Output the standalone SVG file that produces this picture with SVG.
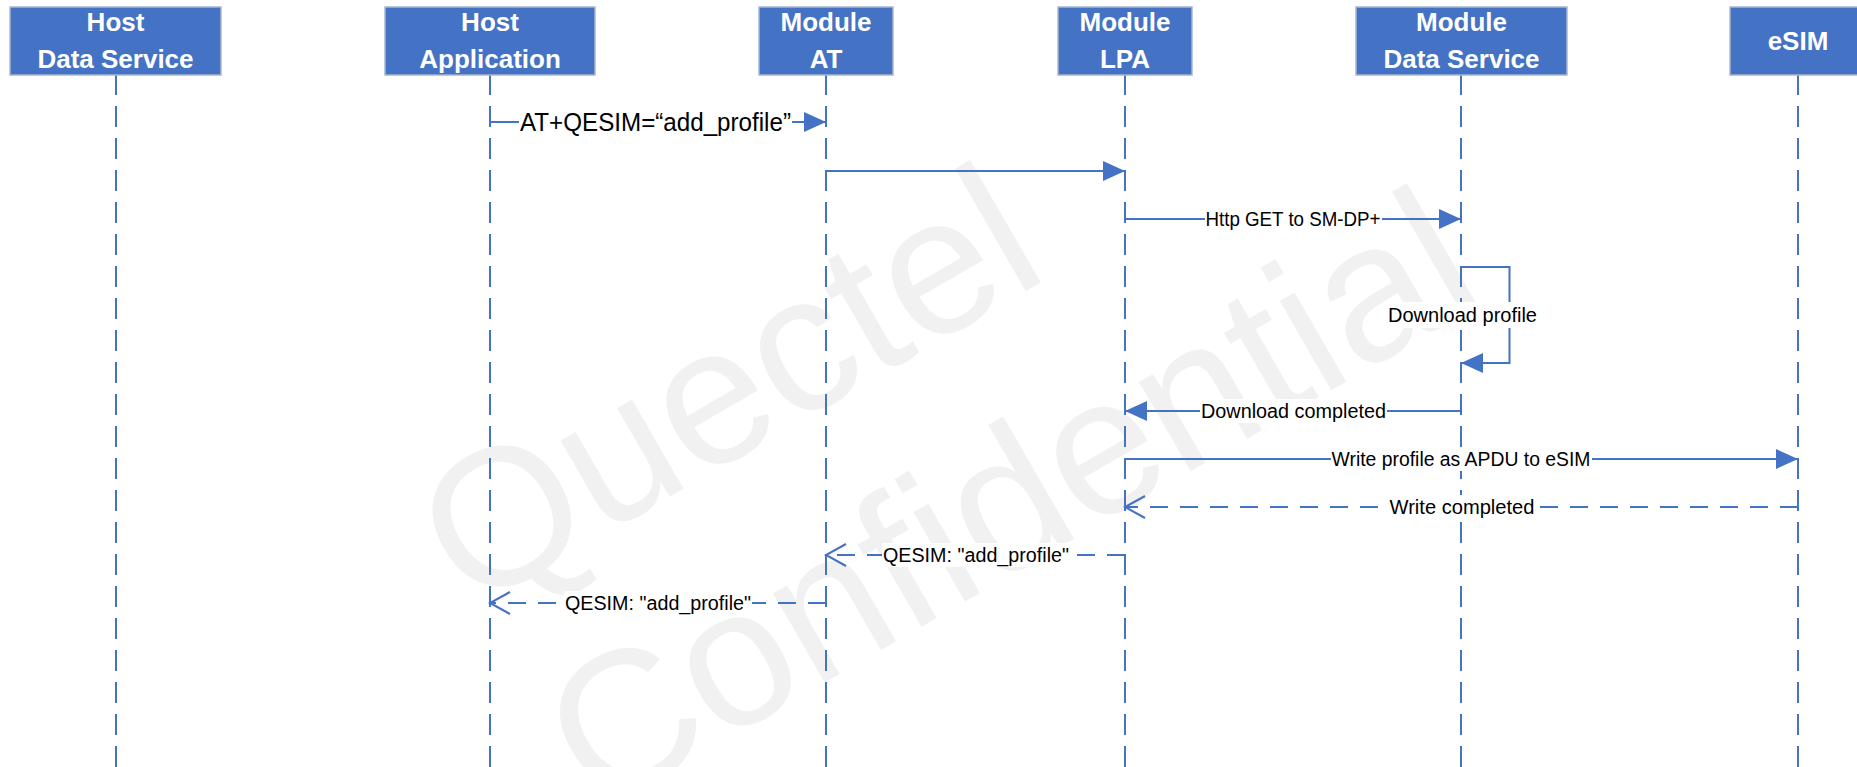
<svg xmlns="http://www.w3.org/2000/svg" width="1857" height="767" viewBox="0 0 1857 767">
<style>
.wm{font-family:"Liberation Sans",Arial,sans-serif;font-size:195px;fill:#F1F1F1}
.box{fill:#4472C4;stroke:#A9B6CF;stroke-width:1.5}
.ht{font-family:"Liberation Sans",Arial,sans-serif;font-weight:bold;font-size:26px;fill:#FFFFFF;text-anchor:middle}
.life{stroke:#4472C4;stroke-width:2;stroke-dasharray:21 11;fill:none}
.msg{stroke:#4472C4;stroke-width:2;fill:none}
.sync{marker-end:url(#fa)}
.ret{stroke-dasharray:18 12;marker-end:url(#oa)}
.lbl{font-family:"Liberation Sans",Arial,sans-serif;font-size:20px;fill:#000;text-anchor:middle}
.bg{fill:#FFFFFF}
</style>
<defs>
<marker id="fa" markerUnits="userSpaceOnUse" markerWidth="22" markerHeight="20" refX="22" refY="10" orient="auto" viewBox="0 0 22 20">
<path d="M0,0 L22,10 L0,20 Z" fill="#4472C4"/>
</marker>
<marker id="oa" markerUnits="userSpaceOnUse" markerWidth="24" markerHeight="26" refX="21" refY="13" orient="auto" viewBox="0 0 24 26">
<path d="M1,2 L21,13 L1,24" fill="none" stroke="#4472C4" stroke-width="2"/>
</marker>
</defs>
<rect width="1857" height="767" fill="#FFFFFF"/>
<g id="watermark">
<text class="wm" transform="translate(470,612) rotate(-30)">Quectel</text>
<text class="wm" transform="translate(597,814) rotate(-30)">Confidential</text>
</g>
<g id="host-data-service">
<path class="life" d="M116,74 V767"/>
<rect class="box" x="10" y="7" width="211" height="68"/>
<text class="ht" x="115.5" y="31">Host</text>
<text class="ht" x="115.5" y="68">Data Service</text>
</g>
<g id="host-application">
<path class="life" d="M490,74 V767"/>
<rect class="box" x="385" y="7" width="210" height="68"/>
<text class="ht" x="490" y="31">Host</text>
<text class="ht" x="490" y="68">Application</text>
</g>
<g id="module-at">
<path class="life" d="M826,74 V767"/>
<rect class="box" x="759" y="7" width="134" height="68"/>
<text class="ht" x="826" y="31">Module</text>
<text class="ht" x="826" y="68">AT</text>
</g>
<g id="module-lpa">
<path class="life" d="M1125,74 V767"/>
<rect class="box" x="1058" y="7" width="134" height="68"/>
<text class="ht" x="1125" y="31">Module</text>
<text class="ht" x="1125" y="68">LPA</text>
</g>
<g id="module-data-service">
<path class="life" d="M1461,74 V767"/>
<rect class="box" x="1356" y="7" width="211" height="68"/>
<text class="ht" x="1461.5" y="31">Module</text>
<text class="ht" x="1461.5" y="68">Data Service</text>
</g>
<g id="esim">
<path class="life" d="M1798,74 V767"/>
<rect class="box" x="1730" y="7" width="136" height="68"/>
<text class="ht" x="1798" y="50">eSIM</text>
</g>
<g id="connectors">
<path class="msg sync" d="M490,122 H826"/>
<rect class="bg" x="519" y="110" width="273" height="26"/>
<text x="655.5" y="131" font-family="'Liberation Sans',Arial,sans-serif" font-size="25" text-anchor="middle" textLength="271" lengthAdjust="spacingAndGlyphs">AT+QESIM=“add_profile”</text>

<path class="msg sync" d="M826,171 H1125"/>

<path class="msg sync" d="M1125,219 H1461"/>
<rect class="bg" x="1205" y="207" width="177" height="24"/>
<text class="lbl" x="1293" y="226" textLength="175" lengthAdjust="spacingAndGlyphs">Http GET to SM-DP+</text>

<path class="msg sync" d="M1461,267 H1509.5 V363 H1461"/>
<rect class="bg" x="1387" y="302" width="151" height="26"/>
<text class="lbl" x="1462.5" y="322" textLength="149" lengthAdjust="spacingAndGlyphs">Download profile</text>

<path class="msg sync" d="M1461,411 H1125"/>
<rect class="bg" x="1200" y="399" width="187" height="24"/>
<text class="lbl" x="1293.5" y="418" textLength="185" lengthAdjust="spacingAndGlyphs">Download completed</text>

<path class="msg sync" d="M1125,459 H1798"/>
<rect class="bg" x="1331" y="447" width="261" height="24"/>
<text class="lbl" x="1461" y="466" textLength="259" lengthAdjust="spacingAndGlyphs">Write profile as APDU to eSIM</text>

<path class="msg ret" d="M1798,507 H1125"/>
<rect class="bg" x="1389" y="495" width="147" height="24"/>
<text class="lbl" x="1462" y="514" textLength="145" lengthAdjust="spacingAndGlyphs">Write completed</text>

<path class="msg ret" d="M1125,555 H826"/>
<rect class="bg" x="882" y="543" width="188" height="24"/>
<text class="lbl" x="976" y="562" textLength="186" lengthAdjust="spacingAndGlyphs">QESIM: "add_profile"</text>

<path class="msg ret" d="M826,603 H490"/>
<rect class="bg" x="564" y="591" width="188" height="24"/>
<text class="lbl" x="658" y="610" textLength="186" lengthAdjust="spacingAndGlyphs">QESIM: "add_profile"</text>
</g>
</svg>
